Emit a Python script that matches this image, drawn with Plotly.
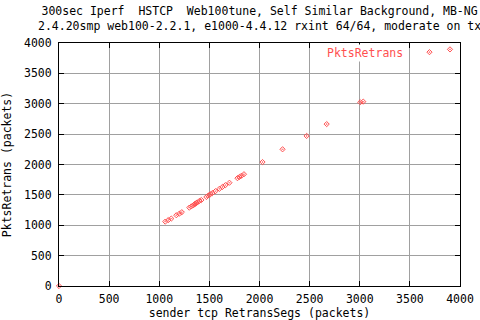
import plotly.graph_objects as go

# Data
retrans_segs = [0, 1060, 1090, 1120, 1170, 1200, 1225, 1300, 1320, 1340, 1350, 1360,
                1370, 1380, 1400, 1420, 1470, 1490, 1510, 1530, 1560, 1600, 1630, 1660,
                1700, 1780, 1800, 1820, 1845, 2030, 2230, 2470, 2670, 3005, 3035, 3900]
pkts_retrans = [0, 1060, 1085, 1110, 1165, 1190, 1215, 1290, 1310, 1330, 1345, 1355,
                1365, 1375, 1400, 1415, 1465, 1490, 1510, 1530, 1560, 1600, 1630, 1660,
                1700, 1775, 1795, 1815, 1840, 2040, 2250, 2470, 2665, 3025, 3035, 3895]
tick_vals = [0, 500, 1000, 1500, 2000, 2500, 3000, 3500, 4000]
title_lines = ["300sec Iperf  HSTCP  Web100tune, Self Similar Background, MB-NG",
               "2.4.20smp web100-2.2.1, e1000-4.4.12 rxint 64/64, moderate on tx"]
series_name = "PktsRetrans"

RED = "#ff5050"
FONT = dict(family="DejaVu Sans Mono", size=11.5, color="black")
MARKER = dict(symbol="diamond-open-dot", size=4, color=RED, line=dict(width=1, color=RED))

fig = go.Figure()
fig.add_trace(go.Scatter(
    x=retrans_segs, y=pkts_retrans, mode="markers", name=series_name,
    showlegend=False, marker=MARKER, cliponaxis=False,
))
# legend sample marker (text drawn as annotation to the left, gnuplot style)
fig.add_trace(go.Scatter(
    x=[None], y=[None], mode="markers", name=" ", showlegend=True, marker=MARKER,
))

axis_common = dict(
    range=[0, 4000], tickvals=tick_vals, ticks="inside", ticklen=5, tickcolor="black",
    showline=True, linecolor="black", linewidth=1, mirror="ticks",
    showgrid=True, gridcolor="#a0a0a0", gridwidth=1, zeroline=False,
    tickfont=FONT, automargin=False,
)

fig.update_layout(
    width=480, height=320,
    margin=dict(l=59, r=20, t=43, b=34),
    paper_bgcolor="white", plot_bgcolor="white",
    font=FONT,
    xaxis=dict(**axis_common, ticklabelstandoff=2,
               title=dict(text="sender tcp RetransSegs (packets)", font=FONT, standoff=10)),
    yaxis=dict(**axis_common, ticklabelstandoff=4,
               title=dict(text="PktsRetrans (packets)", font=FONT, standoff=10)),
    legend=dict(x=0.874, y=1.022, xanchor="left", yanchor="top", bgcolor="rgba(0,0,0,0)",
                font=FONT, itemwidth=30, tracegroupgap=0),
    annotations=[
        dict(text="<br>".join(title_lines), xref="paper", yref="paper", x=0.5, y=1.0,
             yshift=8, xanchor="center", yanchor="bottom", showarrow=False, font=FONT),
        dict(text=series_name, xref="paper", yref="paper", x=0.863, y=0.985,
             yshift=3, xanchor="right", yanchor="top", showarrow=False,
             font=dict(family="DejaVu Sans Mono", size=11.5, color=RED),
             bgcolor="white"),
    ],
)

fig.write_html("out.html")
